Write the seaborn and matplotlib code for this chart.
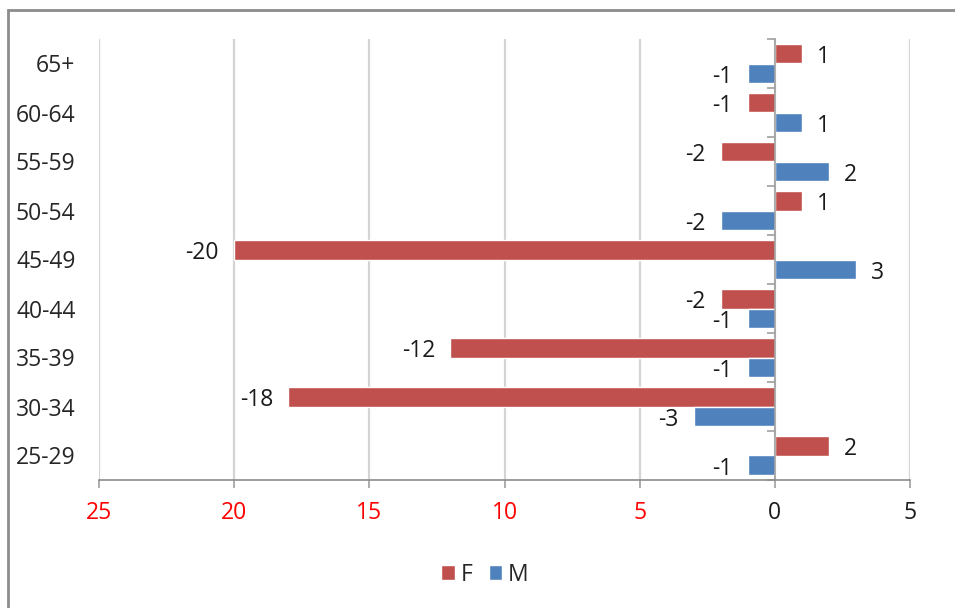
import pandas as pd
import matplotlib.pyplot as plt
import seaborn as sns
from matplotlib.patches import Rectangle

# data
ages = ["65+", "60-64", "55-59", "50-54", "45-49", "40-44", "35-39", "30-34", "25-29"]
f_values = [1, -1, -2, 1, -20, -2, -12, -18, 2]
m_values = [-1, 1, 2, -2, 3, -1, -1, -3, -1]
x_ticks = [-25, -20, -15, -10, -5, 0, 5]
x_tick_labels = ["25", "20", "15", "10", "5", "0", "5"]

df = pd.DataFrame({
    "age": ages * 2,
    "sex": ["F"] * len(ages) + ["M"] * len(ages),
    "value": f_values + m_values,
})

sns.set_style("white")
plt.rcParams["font.family"] = ["Open Sans", "DejaVu Sans"]
fs = 16.5

fig = plt.figure(figsize=(9.55, 6.08), dpi=100)
ax = fig.add_axes([99 / 955, 1 - 480 / 608, 811 / 955, 441 / 608])

colors = {"F": "#C0504D", "M": "#4F81BD"}
sns.barplot(data=df, x="value", y="age", hue="sex", order=ages, hue_order=["F", "M"],
            orient="h", palette=colors, saturation=1, width=0.8, errorbar=None, ax=ax)

ax.set_xlim(-25, 5)
ax.set_ylim(len(ages) - 0.5, -0.5)
ax.set_xlabel("")
ax.set_ylabel("")

# vertical gridlines
ax.set_xticks(x_ticks)
ax.set_xticklabels(x_tick_labels)
ax.grid(axis="x", color="#d4d4d4", linewidth=1.6)
ax.grid(axis="y", visible=False)
ax.set_axisbelow(True)

for lbl, v in zip(ax.get_xticklabels(), x_ticks):
    lbl.set_color("#ff0000" if v < 0 else "#1a1a1a")
ax.tick_params(axis="x", length=6, width=1.2, color="#a0a0a0", pad=9, labelsize=fs, bottom=True)

# y labels on the far left, ticks on the zero line
for side in ["top", "left"]:
    ax.spines[side].set_visible(False)
ax.spines["bottom"].set_color("#8c8c8c")
ax.spines["bottom"].set_linewidth(1.2)
ax.spines["right"].set_position(("data", 0))
ax.spines["right"].set_color("#a0a0a0")
ax.spines["right"].set_linewidth(1.2)
ax.set_yticks([i + 0.5 for i in range(-1, len(ages))], minor=True)
ax.tick_params(axis="y", which="major", length=0, pad=17, labelsize=fs, labelcolor="#262626",
               left=False, right=False)
ax.tick_params(axis="y", which="minor", length=6, width=1.2, color="#a0a0a0",
               direction="in", left=False, right=True)

for cont in ax.containers:
    texts = ax.bar_label(cont, fmt="%d", padding=11, fontsize=fs, color="#1a1a1a")
    for t in texts:
        # nudge the value labels down a little
        t.xyann = (t.xyann[0], -2.5)

ax.legend(handles=ax.get_legend_handles_labels()[0], labels=["F", "M"], loc="center",
          bbox_to_anchor=(0.476, -0.215), ncol=2, frameon=False, fontsize=fs,
          handlelength=0.6, handleheight=0.6, handletextpad=0.25, columnspacing=0.7,
          labelcolor="#262626")

# chart frame
fig.patches.append(Rectangle((8 / 955, -0.1), 1.2, 1 - 10 / 608 + 0.1, transform=fig.transFigure,
                             fill=False, edgecolor="#8c8c8c", linewidth=2))

fig.savefig("out.png", dpi=100)
